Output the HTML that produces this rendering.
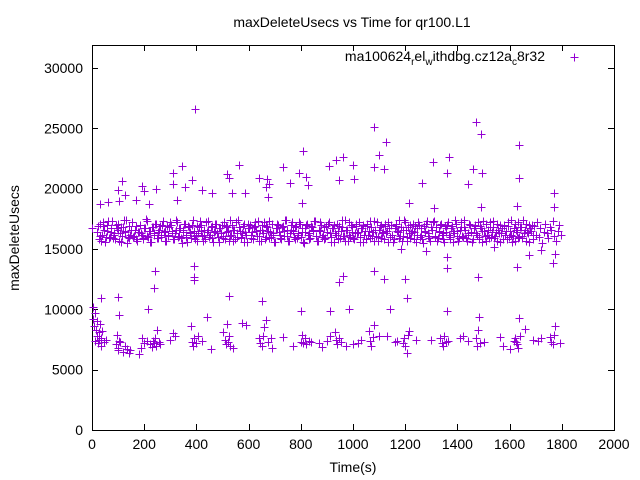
<!DOCTYPE html>
<html><head><meta charset="utf-8"><style>
body{margin:0;background:#fff;}
svg{display:block;font-family:"Liberation Sans",sans-serif;}
</style></head><body>
<svg id="chart" width="640" height="480">
<rect x="0" y="0" width="640" height="480" fill="#fff"/>
<text x="352" y="27" font-size="14" text-anchor="middle">maxDeleteUsecs vs Time for qr100.L1</text>
<g id="axes"></g>
<g id="marks"></g>
<text x="19" y="238" font-size="14" text-anchor="middle" transform="rotate(-90 19 238)">maxDeleteUsecs</text>
<text x="353" y="472" font-size="14" text-anchor="middle">Time(s)</text>
<g>
<text x="545" y="61" font-size="14" text-anchor="end">ma100624<tspan font-size="10" dy="4">r</tspan><tspan dy="-4">el</tspan><tspan font-size="10" dy="4">w</tspan><tspan dy="-4">ithdbg.cz12a</tspan><tspan font-size="10" dy="4">c</tspan><tspan dy="-4">8r32</tspan></text>
<path d="M570.5 57.5h8M574.5 53.5v8" stroke="#9400d3" stroke-width="1"/>
</g>
</svg>
<script>
const xTicks=[0,200,400,600,800,1000,1200,1400,1600,1800,2000];
const yTicks=[0,5000,10000,15000,20000,25000,30000];
const bandStart=20, bandStep=6;
const bandA=[16.4,15.8,17.1,16.2,16.9,15.6,16.5,17.3,16.0,16.7,15.9,16.3,17.0,16.6,15.7,16.8,16.1,17.4,16.4,15.5,16.9,16.2,17.2,16.0,16.6,15.8,16.4,17.0,16.3,15.9,16.7,17.5,16.1,16.5,15.6,16.8,16.2,17.1,15.9,16.4,16.9,16.0,17.3,16.5,15.7,16.2,16.8,17.0,16.3,15.8,16.6,17.2,16.1,16.7,15.5,16.4,17.1,16.0,16.9,16.3,15.9,17.4,16.5,16.2,15.7,16.8,17.0,16.1,16.6,15.8,16.4,17.3,16.2,16.9,15.6,16.5,17.1,16.0,16.7,16.3,15.9,17.2,16.4,16.8,15.7,16.1,17.0,16.6,15.8,16.3,17.4,16.5,16.0,16.9,15.6,16.2,17.1,16.7,15.9,16.4,16.8,17.2,16.1,15.7,16.6,17.0,16.3,15.8,16.9,16.5,17.3,16.0,16.2,15.6,16.7,17.1,16.4,15.9,16.8,16.1,17.4,16.6,15.7,16.3,17.0,16.5,15.8,16.9,16.2,17.2,16.0,16.7,15.5,16.4,17.1,16.3,15.9,16.8,16.6,17.3,16.1,15.7,16.5,17.0,16.2,15.8,16.9,16.4,17.2,16.0,16.7,15.6,16.3,17.1,16.5,15.9,16.8,16.1,17.4,16.6,15.7,16.2,17.0,16.4,15.8,16.9,16.3,17.2,16.0,16.7,15.6,16.5,17.1,16.2,15.9,16.8,16.4,17.3,16.1,15.7,16.6,17.0,16.3,15.8,16.9,16.5,17.2,16.0,16.2,15.6,16.7,17.1,16.4,15.9,16.8,16.1,17.4,16.6,15.7,16.3,17.0,16.5,15.8,16.9,16.2,17.2,16.0,16.7,15.5,16.4,17.1,16.3,15.9,16.8,16.6,17.3,16.1,15.7,16.5,17.0,16.2,15.8,16.9,16.4,17.2,16.0,16.7,15.6,16.3,17.1,16.5,15.9,16.8,16.1,17.4,16.6,15.7,16.2,17.0,16.4,15.8,16.9,16.3,17.2,16.0,16.7,15.6,16.5,17.1,16.2,15.9,16.8,16.4,17.3,16.1,15.7,16.6,17.0,16.3,15.8,16.9,16.5,17.2,16.0,16.2,15.6,16.7,17.1,16.4,15.9,16.8,16.1,17.4,16.6,15.7,16.3,17.0,16.5,15.8,16.9,16.2,17.2,16.0,16.7,15.5,16.4,17.1,16.3,15.9,16.8,16.6,17.3,16.1,15.7,16.5,17.0,16.2];
const bandBStart=23, bandBStep=6;
const bandB=[16.9,16.1,15.7,17.2,16.6,16.0,17.0,15.9,16.4,17.3,16.2,15.8,16.7,17.1,16.3,15.6,16.8,16.5,17.4,16.0,15.9,16.6,17.2,16.1,16.9,15.7,16.4,17.0,16.2,15.8,16.7,17.3,16.0,16.5,15.6,16.8,16.3,17.1,15.9,16.6,16.2,17.0,16.4,15.7,16.9,16.1,17.2,16.5,15.8,16.3,17.4,16.0,16.7,15.9,16.6,17.1,16.2,15.6,16.8,16.4,17.0,16.1,15.8,16.9,16.3,17.3,16.5,15.7,16.2,17.2,16.6,16.0,16.8,15.9,16.4,17.1,16.3,15.6,16.7,17.0,16.1,15.8,16.9,16.5,17.4,16.2,15.7,16.6,17.2,16.0,16.8,15.9,16.3,17.1,16.4,15.6,16.7,17.0,16.2,15.8,16.9,16.5,17.3,16.1,15.7,16.6,17.2,16.0,16.8,15.9,16.4,17.1,16.3,15.6,16.7,17.0,16.2,15.8,16.9,16.5,17.4,16.1,15.7,16.6,17.2,16.0,16.8,15.9,16.3,17.1,16.4,15.6,16.7,17.0,16.2,15.8,16.9,16.5,17.3,16.1,15.7,16.6,17.2,16.0,16.8,15.9,16.4,17.1,16.3,15.6,16.7,17.0,16.2,15.8,16.9,16.5,17.4,16.1,15.7,16.6,17.2,16.0,16.8,15.9,16.3,17.1,16.4,15.6,16.7,17.0,16.2,15.8,16.9,16.5,17.3,16.1,15.7,16.6,17.2,16.0,16.8,15.9,16.4,17.1,16.3,15.6,16.7,17.0,16.2,15.8,16.9,16.5,17.4,16.1,15.7,16.6,17.2,16.0,16.8,15.9,16.3,17.1,16.4,15.6,16.7,17.0,16.2,15.8,16.9,16.5,17.3,16.1,15.7,16.6,17.2,16.0,16.8,15.9,16.4,17.1,16.3,15.6,16.7,17.0,16.2,15.8,16.9,16.5,17.4,16.1,15.7,16.6,17.2,16.0,16.8,15.9,16.3,17.1,16.4,15.6,16.7,17.0,16.2,15.8,16.9,16.5,17.3,16.1,15.7,16.6,17.2,16.0,16.8,15.9,16.4,17.1,16.3,15.6,16.7,17.0,16.2,15.8,16.9,16.5,17.4,16.1,15.7,16.6,17.2,16.0,16.8,15.9,16.3,17.1,16.4,15.6,16.7,17.0,16.2];
const outX=[395,1080,1470,1490,1128,1637,810,1100,963,1367,1308,935,908,1000,345,730,1082,1120,1460,312,563,518,793,1360,1494,640,670,1003,948,820,1635,385,115,760,310,680,828,1265,1440,357,665,100,190,200,245,420,460,525,537,585,673,125,170,325,103,1213,805,1490,1770,1310,1770,220,32,60,1630,1360,1360,1773,1768,1676,1630,1480,1080,1200,1120,960,945,390,390,390,243,237,1205,523,650,100,35,215,802,985,912,1140,1360,1637,1483,103,440,0,1185,1720,1540,1280];
const outY=[26600,25100,25500,24500,23900,23600,23100,22800,22600,22600,22200,22400,21900,22000,21900,21800,21800,21600,21600,21300,22000,21200,21300,21300,21300,20900,20800,20800,20700,21000,20900,20700,20600,20500,20400,20400,20300,20500,20400,20100,20100,19900,20200,19800,20000,19900,19600,20900,19600,19600,19300,19500,19100,19100,19000,18800,18800,18500,19600,18400,18500,18700,18700,18900,18600,14300,13400,14600,13800,14500,13500,12700,13200,12500,12500,12800,12300,13600,12700,12400,13200,11800,10900,11100,10700,11000,10900,10000,9900,10000,9900,10000,9900,9300,9400,9500,9400,16700,15000,14900,15200,14800];
const lowX=[2,5,8,10,12,15,18,20,22,25,28,30,33,36,40,45,55,92,95,98,100,104,108,120,128,135,140,145,180,186,190,200,210,222,230,235,238,240,244,250,255,262,300,310,318,380,384,388,392,398,405,420,455,500,510,514,518,522,526,530,540,575,590,640,645,650,655,660,668,675,685,690,730,770,800,805,810,815,820,830,840,870,880,900,910,930,935,940,945,955,975,1000,1020,1030,1060,1065,1070,1075,1080,1100,1130,1160,1170,1190,1195,1200,1205,1210,1215,1240,1300,1335,1340,1345,1350,1355,1365,1410,1420,1440,1470,1475,1480,1485,1500,1565,1575,1600,1615,1620,1625,1628,1632,1640,1660,1690,1710,1720,1755,1760,1765,1770,1775,1795];
const lowY=[10200,9200,8600,9700,7400,8300,9000,7800,7200,8100,7500,8800,7000,7600,8200,7300,7500,7100,7900,6600,6800,7400,7300,6500,7000,6700,6400,6600,6300,6800,7600,7200,7400,7100,6900,7400,7200,7600,7000,8300,7300,7100,7500,8000,7800,8600,7300,7000,7600,7200,7800,7400,6700,8100,7500,7100,8800,7300,7800,7000,6800,8900,8700,7600,7200,7000,7800,8500,9100,7300,7600,6800,7700,7000,7300,7900,7200,7600,7100,7400,7300,7200,6900,7400,7800,8100,7500,7100,7600,7300,7000,7100,7200,7500,8200,7400,7000,7700,8700,7800,7800,7300,7400,7200,7600,7000,6400,7900,8200,7500,7500,7600,7200,7000,7800,7300,7400,7600,7800,7400,7600,7000,8300,7200,7300,7700,7000,6700,7400,7600,7300,7100,6800,7800,8400,7500,7400,7600,7700,7300,7100,7900,8600,7200,7500,7400];

const NS="http://www.w3.org/2000/svg";
const L=92,R=614,T=45,B=430;
function sx(v){return L+v*(R-L)/2000;}
function sy(v){return B-v*(B-68)/30000;}
const axes=document.getElementById('axes');
const marks=document.getElementById('marks');
const box=document.createElementNS(NS,'rect');
box.setAttribute('x',L+0.5);box.setAttribute('y',T+0.5);box.setAttribute('width',R-L);box.setAttribute('height',B-T);
box.setAttribute('fill','none');box.setAttribute('stroke','#000');


axes.appendChild(box);
xTicks.forEach(function(t){
  const x=Math.round(sx(t))+0.5;
  const p=document.createElementNS(NS,'path');
  p.setAttribute('d','M'+x+' '+B+'v-6M'+x+' '+T+'v6');p.setAttribute('stroke','#000');
  
  
  axes.appendChild(p);
  const tx=document.createElementNS(NS,'text');
  tx.setAttribute('x',sx(t));tx.setAttribute('y',B+19);tx.setAttribute('font-size','14');tx.setAttribute('text-anchor','middle');
  tx.textContent=t;
  
  
  axes.appendChild(tx);
});
yTicks.forEach(function(t){
  const y=Math.round(sy(t))+0.5;
  const p=document.createElementNS(NS,'path');
  p.setAttribute('d','M'+L+' '+y+'h6M'+R+' '+y+'h-6');p.setAttribute('stroke','#000');
  
  
  axes.appendChild(p);
  const tx=document.createElementNS(NS,'text');
  tx.setAttribute('x',L-9);tx.setAttribute('y',sy(t)+5);tx.setAttribute('font-size','14');tx.setAttribute('text-anchor','end');
  tx.textContent=t;
  
  
  axes.appendChild(tx);
});
let d='';
function plus(xv,yv){
  if(xv>1800) return;
  const x=Math.round(sx(xv))+0.5,y=Math.round(sy(yv))+0.5;
  d+='M'+(x-4)+' '+y+'h8M'+x+' '+(y-4)+'v8';
}
bandA.forEach(function(v,i){plus(bandStart+i*bandStep,v*1000);});
bandB.forEach(function(v,i){plus(bandBStart+i*bandBStep,v*1000);});
outX.forEach(function(v,i){plus(v,outY[i]);});
lowX.forEach(function(v,i){plus(v,lowY[i]);});
const path=document.createElementNS(NS,'path');
path.setAttribute('d',d);path.setAttribute('stroke','#9400d3');path.setAttribute('stroke-width','1');path.setAttribute('fill','none');


marks.appendChild(path);
</script>
</body></html>
